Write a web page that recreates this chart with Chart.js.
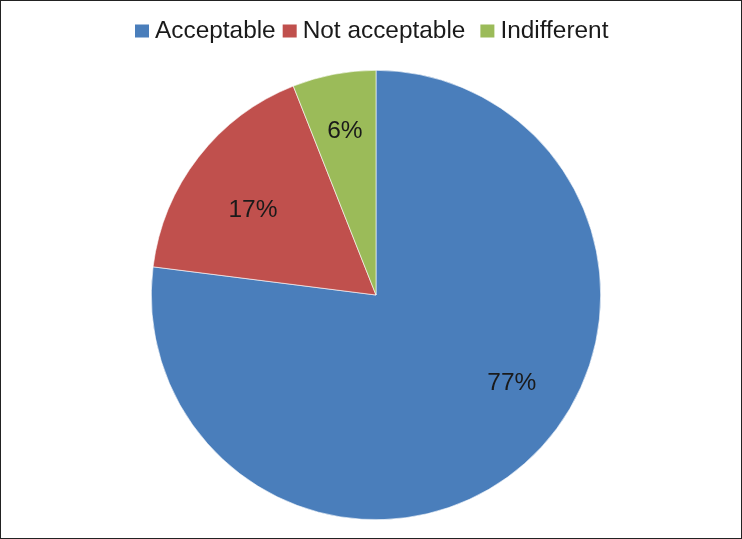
<!DOCTYPE html>
<html>
<head>
<meta charset="utf-8">
<script src="https://cdn.jsdelivr.net/npm/chart.js@4/dist/chart.umd.min.js"></script>
<style>
  html, body { margin: 0; padding: 0; background: #ffffff; }
  #wrap { width: 742px; height: 539px; box-sizing: border-box; border: 1px solid #222222; background: #ffffff; }
  #c { display: block; }
</style>
</head>
<body>
<div id="wrap"><canvas id="c" width="740" height="537"></canvas></div>
<script>
const categories = ["Acceptable", "Not acceptable", "Indifferent"];
const values = [77, 17, 6];
const valueLabels = ["77%", "17%", "6%"];
const colors = ["#4a7ebb", "#c0504d", "#9bbb59"];

const FONT = '"Liberation Sans", Arial, sans-serif';

const sliceLabels = {
  id: 'sliceLabels',
  afterDatasetsDraw(chart, args, opts) {
    const ctx = chart.ctx;
    const meta = chart.getDatasetMeta(0);
    ctx.save();
    ctx.font = '24.5px ' + FONT;
    ctx.fillStyle = '#1a1a1a';
    ctx.textAlign = 'center';
    ctx.textBaseline = 'middle';
    meta.data.forEach((arc, i) => {
      const p = arc.getProps(['x', 'y', 'startAngle', 'endAngle', 'outerRadius'], true);
      const mid = (p.startAngle + p.endAngle) / 2 + opts.shift[i] * Math.PI / 180;
      const r = p.outerRadius * opts.frac[i];
      ctx.fillText(valueLabels[i], p.x + r * Math.cos(mid), p.y + r * Math.sin(mid));
    });
    ctx.restore();
  }
};

const topLegend = {
  id: 'topLegend',
  afterDraw(chart, args, opts) {
    const ctx = chart.ctx;
    ctx.save();
    ctx.font = '24.4px ' + FONT;
    ctx.textBaseline = 'middle';
    const bw = 14, bh = 13, gapBox = 6;
    let x = opts.left;
    const y = 30;
    categories.forEach((c, i) => {
      ctx.fillStyle = colors[i];
      ctx.fillRect(x, y - bh / 2, bw, bh);
      x += bw + gapBox;
      ctx.fillStyle = '#1a1a1a';
      ctx.fillText(c, x, y);
      x += ctx.measureText(c).width + (opts.gaps[i] || 0);
    });
    ctx.restore();
  }
};

new Chart(document.getElementById('c'), {
  type: 'pie',
  data: {
    labels: categories,
    datasets: [{
      data: values,
      backgroundColor: colors,
      borderColor: '#ffffff',
      borderWidth: 0.6
    }]
  },
  options: {
    responsive: false,
    animation: false,
    layout: { padding: { top: 69, bottom: 18, left: 150, right: 140 } },
    plugins: {
      legend: { display: false },
      tooltip: { enabled: false },
      sliceLabels: { shift: [-15.7, -3.2, 0], frac: [0.72, 0.665, 0.74] },
      topLegend: { left: 134, gaps: [7, 15] }
    }
  },
  plugins: [sliceLabels, topLegend]
});
</script>
</body>
</html>
